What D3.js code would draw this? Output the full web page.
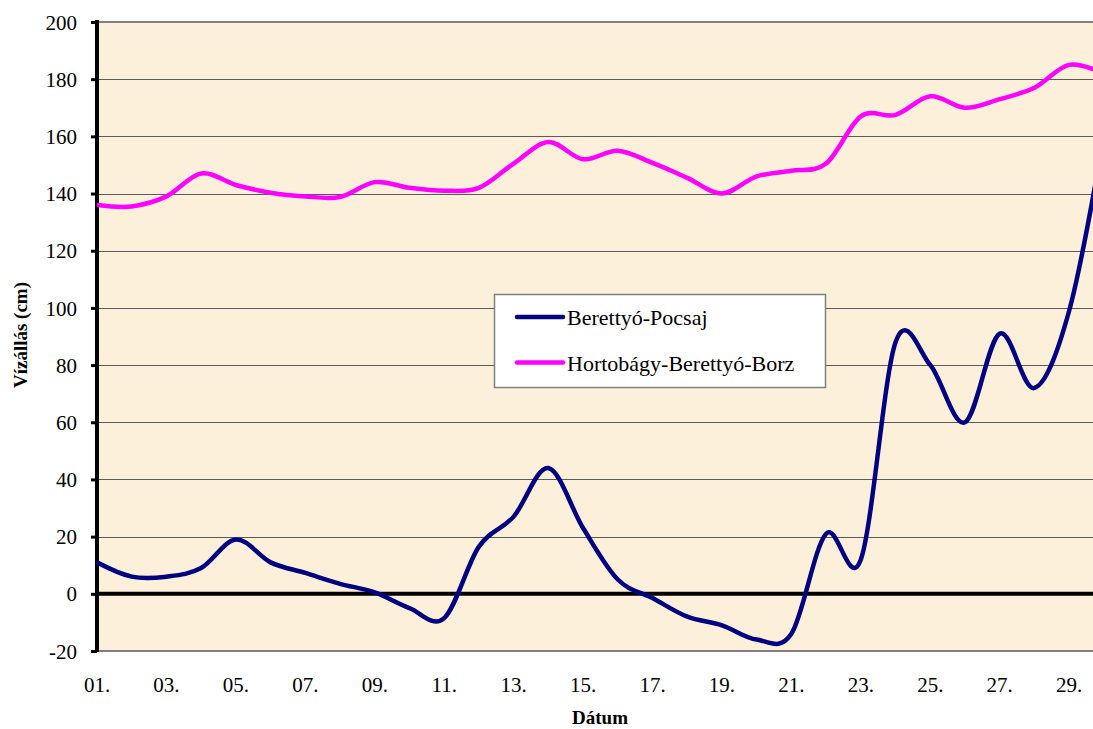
<!DOCTYPE html>
<html>
<head>
<meta charset="utf-8">
<script src="https://cdn.jsdelivr.net/npm/d3@7"></script>
<style>
    body { margin: 0; background: #fff; }
</style>
</head>
<body>
<div id="chart"></div>
<script>
// días del mes (1..30) y niveles de agua en cm
const days = d3.range(1, 31);
const pocsaj = [11, 6, 6, 9, 19, 11, 7.3, 3.5, 0.5, -5, -8.5, 16.5, 27, 44, 23, 5, -1.5, -8, -11, -16,
    -14, 21, 12, 88, 80, 60, 91, 72, 99, 160];
const borz = [136, 135.5, 139, 147, 143, 140.3, 139, 138.8, 144, 142, 141, 142, 150.5, 158, 152, 155, 150.7, 145.5, 140, 146,
    148, 150.5, 167, 167.5, 174, 170, 173, 177, 185, 182];
const seriesNames = ["Berettyó-Pocsaj", "Hortobágy-Berettyó-Borz"];
const seriesColors = ["#000080", "#ff00ff"];
const yTicks = [-20, 0, 20, 40, 60, 80, 100, 120, 140, 160, 180, 200];
const xTicks = [1, 3, 5, 7, 9, 11, 13, 15, 17, 19, 21, 23, 25, 27, 29];

const W = 1093, H = 729;
const plotLeft = 97, plotTop = 22, plotBottom = 651, dayW = 34.72;
const serif = "'Liberation Serif', 'Times New Roman', Tinos, 'DejaVu Serif', serif";

const svg = d3.select("#chart").append("svg")
    .attr("width", W)
    .attr("height", H);

const x = d3.scaleLinear([1, 30], [plotLeft, plotLeft + 29 * dayW]);
const y = d3.scaleLinear([-20, 200], [plotBottom, plotTop]);

// fondo del área de dibujo
svg.append("rect")
    .attr("x", plotLeft).attr("y", plotTop)
    .attr("width", W - plotLeft).attr("height", plotBottom - plotTop)
    .attr("fill", "#fcf0db");

svg.append("clipPath").attr("id", "clip")
    .append("rect")
    .attr("x", plotLeft).attr("y", plotTop - 5)
    .attr("width", W - plotLeft).attr("height", plotBottom - plotTop + 10);

// líneas de rejilla
svg.append("g")
    .selectAll("line")
    .data(yTicks.filter(v => v > -20 && v < 200 && v !== 0))
    .enter().append("line")
    .attr("x1", plotLeft).attr("x2", W)
    .attr("y1", d => Math.round(y(d)) + 0.5).attr("y2", d => Math.round(y(d)) + 0.5)
    .attr("stroke", "#5a5a5a").attr("stroke-width", 1);

// bordes arriba y abajo
[200, -20].forEach(v => {
    svg.append("line")
        .attr("x1", plotLeft).attr("x2", W)
        .attr("y1", y(v)).attr("y2", y(v))
        .attr("stroke", "#808080").attr("stroke-width", 2);
});

// eje y con sus marcas
const yAxis = svg.append("g")
    .attr("transform", `translate(${plotLeft},0)`)
    .call(d3.axisLeft(y).tickValues(yTicks).tickSize(6).tickPadding(14).tickFormat(d => String(d)));
yAxis.select(".domain").remove();
yAxis.selectAll(".tick line").attr("stroke", "#000").attr("stroke-width", 3);
yAxis.selectAll(".tick text")
    .attr("fill", "#000")
    .style("font-family", serif)
    .style("font-size", "21px")
    .attr("dy", "0.34em");

svg.append("line")
    .attr("x1", plotLeft).attr("x2", plotLeft)
    .attr("y1", plotTop - 2).attr("y2", plotBottom + 1)
    .attr("stroke", "#000").attr("stroke-width", 4);

// línea del cero
svg.append("line")
    .attr("x1", plotLeft).attr("x2", W)
    .attr("y1", y(0)).attr("y2", y(0))
    .attr("stroke", "#000").attr("stroke-width", 4);

// etiquetas del eje x
svg.append("g")
    .selectAll("text")
    .data(xTicks)
    .enter().append("text")
    .attr("x", d => x(d))
    .attr("y", 692)
    .attr("text-anchor", "middle")
    .style("font-family", serif)
    .style("font-size", "21px")
    .text(d => d3.format("02d")(d) + ".");

// títulos de ejes
svg.append("text")
    .attr("x", 600).attr("y", 724)
    .attr("text-anchor", "middle")
    .style("font-family", serif)
    .style("font-size", "19px").style("font-weight", "bold")
    .text("Dátum");

svg.append("text")
    .attr("transform", "translate(27,335) rotate(-90)")
    .attr("text-anchor", "middle")
    .style("font-family", serif)
    .style("font-size", "19px").style("font-weight", "bold")
    .text("Vízállás (cm)");

// series suavizadas
const line = d3.line()
    .x((d, i) => x(days[i]))
    .y(d => y(d))
    .curve(d3.curveCardinal.tension(0));

const plot = svg.append("g").attr("clip-path", "url(#clip)");
[pocsaj, borz].forEach((s, i) => {
    plot.append("path")
        .datum(s)
        .attr("d", line)
        .attr("fill", "none")
        .attr("stroke", seriesColors[i])
        .attr("stroke-width", 4.5)
        .attr("stroke-linejoin", "round")
        .attr("stroke-linecap", "round");
});

// leyenda
const legend = svg.append("g").attr("transform", "translate(494,294)");
legend.append("rect")
    .attr("x", 0.5).attr("y", 0.5)
    .attr("width", 331).attr("height", 93)
    .attr("fill", "#fff")
    .attr("stroke", "#808080").attr("stroke-width", 1.5);
seriesNames.forEach((name, i) => {
    const ly = 23 + i * 45.5;
    legend.append("line")
        .attr("x1", 23).attr("x2", 69)
        .attr("y1", ly).attr("y2", ly)
        .attr("stroke", seriesColors[i]).attr("stroke-width", 4.5)
        .attr("stroke-linecap", "round");
    legend.append("text")
        .attr("x", 73).attr("y", ly + 8)
        .style("font-family", serif)
        .style("font-size", "22px")
        .text(name);
});
</script>
</body>
</html>
